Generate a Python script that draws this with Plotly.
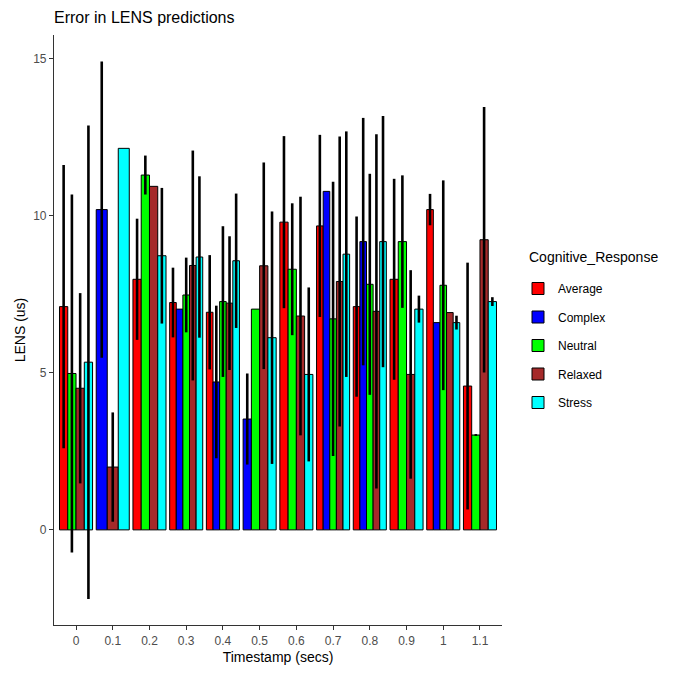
import plotly.graph_objects as go

timestamps = ["0", "0.1", "0.2", "0.3", "0.4", "0.5", "0.6", "0.7", "0.8", "0.9", "1", "1.1"]
categories = ["Average", "Complex", "Neutral", "Relaxed", "Stress"]
colors = {"Average": "#FF0000", "Complex": "#0000FF", "Neutral": "#00FF00",
          "Relaxed": "#A52A2A", "Stress": "#00FFFF"}

average = [7.11, None, 7.98, 7.24, 6.93, None, 9.80, 9.68, 7.11, 7.98, 10.20, 4.58]
average_sd = [4.51, None, 1.93, 1.11, 1.82, None, 2.74, 2.90, 2.87, 3.20, 0.50, 3.93]
complex_ = [None, 10.20, None, 7.03, 4.71, 3.53, None, 10.78, 9.18, None, 6.60, None]
complex_sd = [None, 4.72, None, None, 2.43, 1.45, None, None, 3.94, None, None, None]
neutral = [4.98, None, 11.30, 7.48, 7.27, 7.03, 8.30, 6.72, 7.82, 9.18, 7.79, 3.02]
neutral_sd = [5.70, None, 0.62, 1.19, 2.40, None, 2.10, 4.37, 3.52, 2.11, 3.34, 0.03]
relaxed = [4.51, 2.00, 10.94, 8.42, 7.22, 8.41, 6.81, 7.91, 6.96, 4.95, 6.92, 9.24]
relaxed_sd = [3.03, 1.74, None, 3.66, 2.13, 3.29, 3.80, 4.62, 5.64, 3.32, None, 4.23]
stress = [5.34, 12.15, 8.73, 8.69, 8.57, 6.12, 4.95, 8.78, 9.18, 7.03, 6.60, 7.27]
stress_sd = [7.54, None, 2.16, 2.57, 2.14, 4.02, 2.77, 3.91, 4.00, 0.43, 0.22, 0.14]

values = {"Average": average, "Complex": complex_, "Neutral": neutral,
          "Relaxed": relaxed, "Stress": stress}
sds = {"Average": average_sd, "Complex": complex_sd, "Neutral": neutral_sd,
       "Relaxed": relaxed_sd, "Stress": stress_sd}

GROUP_W = 0.9
fig = go.Figure()

# ggplot-style dodge: bars present in each group share the group width
present = []
for i in range(len(timestamps)):
    present.append([c for c in categories if values[c][i] is not None])

for c in categories:
    xs, ys, ws, ep = [], [], [], []
    for i in range(len(timestamps)):
        v = values[c][i]
        if v is None:
            continue
        cats = present[i]
        n = len(cats)
        k = cats.index(c)
        w = GROUP_W / n
        xs.append(i - GROUP_W / 2 + (k + 0.5) * w)
        ys.append(v)
        ws.append(w)
        s = sds[c][i]
        ep.append(s if s is not None else float("nan"))
    fig.add_trace(go.Bar(
        x=xs, y=ys, width=ws, name=c, legendgroup=c,
        marker=dict(color=colors[c], line=dict(color="black", width=1)),
        error_y=dict(type="data", array=ep, symmetric=True, width=0,
                     thickness=2.6, color="black"),
    ))

# page body adds an 8px margin; figure sized to fit the 682x673 window
W, H = 666, 657
L, R, T, B = 46, 172, 27, 40
PW, PH = W - L - R, H - T - B

fig.update_layout(
    width=W, height=H,
    barmode="overlay",
    plot_bgcolor="white", paper_bgcolor="white",
    margin=dict(l=L, r=R, t=T, b=B, autoexpand=False),
    font=dict(family="Liberation Sans, Arial, sans-serif", color="black"),
    title=dict(text="Error in LENS predictions", x=L / W, xanchor="left",
               y=1 - 9 / H, yanchor="middle",
               font=dict(size=16, color="black")),
    legend=dict(x=(510 - L) / PW, xanchor="left",
                y=(H - B - 337.5) / PH, yanchor="middle",
                font=dict(size=12), traceorder="grouped", tracegroupgap=9.5),
    showlegend=True,
    annotations=[dict(text="Cognitive_Response", xref="paper", yref="paper",
                      x=(519 - L) / PW, y=(H - B - 249) / PH,
                      xanchor="left", yanchor="middle", showarrow=False,
                      font=dict(size=14, color="black"))],
)
fig.update_xaxes(
    range=[-0.6, 11.6], tickmode="array",
    tickvals=list(range(len(timestamps))), ticktext=timestamps,
    showline=True, linecolor="#333333", linewidth=1.2,
    ticks="outside", ticklen=4, tickcolor="#333333",
    tickfont=dict(size=12, color="#4D4D4D"),
    showgrid=False, zeroline=False, automargin=False,
    title=dict(text="Timestamp (secs)", font=dict(size=14), standoff=7),
)
fig.update_yaxes(
    range=[-3.03, 15.76], tickvals=[0, 5, 10, 15],
    showline=True, linecolor="#333333", linewidth=1.2,
    ticks="outside", ticklen=4, tickcolor="#333333",
    tickfont=dict(size=12, color="#4D4D4D"),
    showgrid=False, zeroline=False, automargin=False,
    title=dict(text="LENS (us)", font=dict(size=14), standoff=4),
)

fig.write_html("out.html")
